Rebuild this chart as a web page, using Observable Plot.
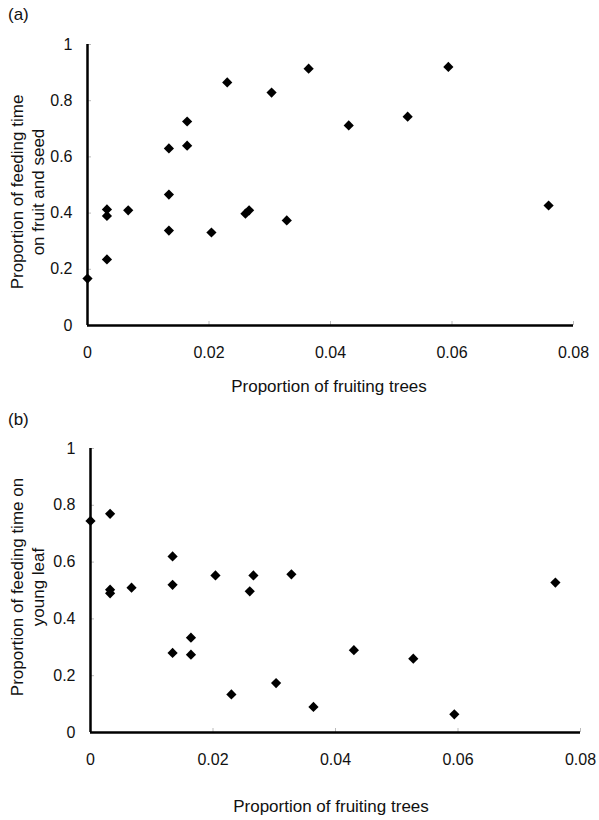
<!DOCTYPE html>
<html>
<head>
<meta charset="utf-8">
<script src="https://cdn.jsdelivr.net/npm/d3@7"></script>
<script src="https://cdn.jsdelivr.net/npm/@observablehq/plot@0.6"></script>
<style>
  html, body { margin: 0; padding: 0; background: #fff; }
  body { width: 599px; height: 820px; position: relative; overflow: hidden;
         font-family: "Liberation Sans", Arial, sans-serif; color: #111; }
  .panel { position: absolute; left: 0; }
  .lbl { position: absolute; font-size: 17px; line-height: 20px; white-space: nowrap; }
  .xt { position: absolute; font-size: 17px; line-height: 20px; white-space: nowrap; transform: translate(-50%, -50%); }
  .yt { position: absolute; font-size: 17px; line-height: 21px; white-space: nowrap; text-align: center;
        transform: translate(-50%, -50%) rotate(-90deg); }
</style>
</head>
<body>
<script>
// ---- data ----
const xTicks = [0, 0.02, 0.04, 0.06, 0.08];
const yTicks = [0, 0.2, 0.4, 0.6, 0.8, 1];
const fruitingTrees = [0, 0.0032, 0.0032, 0.0032, 0.0067, 0.0134, 0.0134, 0.0134, 0.0164, 0.0164, 0.0204, 0.023, 0.026, 0.0266, 0.0303, 0.0328, 0.0364, 0.043, 0.0527, 0.0594, 0.0759];
const fruitSeed     = [0.167, 0.413, 0.39, 0.235, 0.41, 0.63, 0.466, 0.338, 0.726, 0.64, 0.331, 0.865, 0.398, 0.41, 0.829, 0.374, 0.914, 0.712, 0.743, 0.92, 0.427];
const youngLeaf     = [0.745, 0.77, 0.503, 0.49, 0.51, 0.62, 0.52, 0.28, 0.334, 0.274, 0.553, 0.134, 0.497, 0.553, 0.174, 0.557, 0.09, 0.29, 0.26, 0.064, 0.528];
const panelLabels = ["(a)", "(b)"];
const xTitle = "Proportion of fruiting trees";
const yTitlesA = ["Proportion of feeding time", "on fruit and seed"];
const yTitlesB = ["Proportion of feeding time on", "young leaf"];

const dataA = fruitingTrees.map((x, i) => ({x, y: fruitSeed[i]}));
const dataB = fruitingTrees.map((x, i) => ({x, y: youngLeaf[i]}));

function panel(data, m, height) {
  return Plot.plot({
    width: 599,
    height,
    marginTop: m.top, marginBottom: m.bottom, marginLeft: m.left, marginRight: m.right,
    style: {fontFamily: '"Liberation Sans", Arial, sans-serif', fontSize: "16px", color: "#111", background: "#fff"},
    x: {domain: [0, 0.08]},
    y: {domain: [0, 1]},
    marks: [
      Plot.axisX({ticks: xTicks, tickSize: -4, tickPadding: 25, stroke: "#bbb", fill: "#111", tickFormat: d => `${d}`, label: null, fontSize: 16}),
      Plot.axisY({ticks: yTicks, tickSize: -4, tickPadding: 19, stroke: "#bbb", fill: "#111", tickFormat: d => `${d}`, label: null, fontSize: 16}),
      Plot.ruleY([0], {stroke: "#000", strokeWidth: 2.5}),
      Plot.ruleX([0], {stroke: "#000", strokeWidth: 2.5}),
      Plot.dot(data, {x: "x", y: "y", symbol: "diamond2", r: 4.6, fill: "#000", stroke: null})
    ]
  });
}

function add(el, top) {
  const d = document.createElement("div");
  d.className = "panel";
  d.style.top = top + "px";
  d.appendChild(el);
  document.body.appendChild(d);
}

add(panel(dataA, {top: 44, bottom: 60, left: 87, right: 26}, 385), 0);
add(panel(dataB, {top: 48, bottom: 88, left: 90, right: 19}, 420), 400);

function text(cls, html, left, top) {
  const d = document.createElement("div");
  d.className = cls;
  d.innerHTML = html;
  d.style.left = left + "px";
  d.style.top = top + "px";
  document.body.appendChild(d);
}
text("lbl", panelLabels[0], 8, 5);
text("lbl", panelLabels[1], 8, 410);
text("xt", xTitle, 329, 387);
text("xt", xTitle, 331, 807);
text("yt", yTitlesA.join("<br>"), 28, 192);
text("yt", yTitlesB.join("<br>"), 28, 587);
</script>
</body>
</html>
